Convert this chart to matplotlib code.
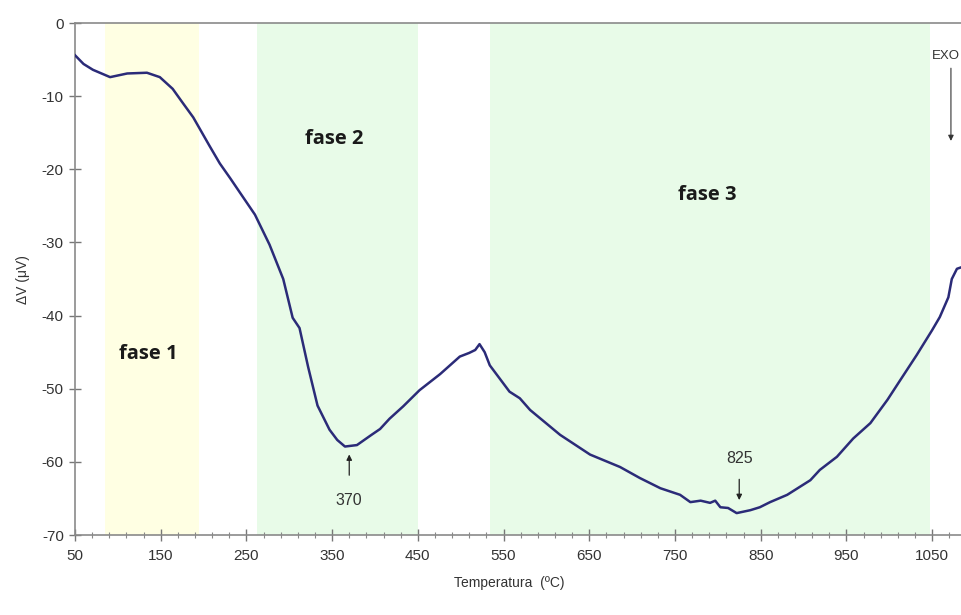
import matplotlib
matplotlib.use("Agg")
import matplotlib.pyplot as plt

plt.rcParams["font.family"] = ["Liberation Sans", "DejaVu Sans"]
plt.rcParams["axes.unicode_minus"] = False

# DTA curve: temperature (ºC) vs ΔV (µV)
temperatura = [50, 60, 71, 91, 111, 134, 149, 164, 175, 188, 207, 219, 231, 242,
               260, 277, 293, 304, 312, 322, 333, 347, 356, 365, 379, 396, 406,
               417, 433, 452, 464, 476, 499, 510, 517, 522, 528, 534, 557, 569,
               581, 616, 651, 686, 709, 733, 756, 768, 780, 791, 797, 803, 812,
               822, 838, 849, 861, 881, 908, 919, 939, 958, 978, 998, 1013, 1032,
               1050, 1059, 1069, 1073, 1079, 1084]
delta_v = [-4.4, -5.6, -6.4, -7.4, -6.9, -6.8, -7.4, -9.0, -10.8, -12.9, -16.8,
           -19.2, -21.2, -23.1, -26.2, -30.3, -35.0, -40.3, -41.7, -47.0, -52.3,
           -55.6, -57.0, -57.9, -57.7, -56.3, -55.5, -54.1, -52.4, -50.2, -49.1,
           -48.0, -45.6, -45.1, -44.7, -43.9, -45.0, -46.8, -50.4, -51.3, -52.9,
           -56.3, -59.0, -60.7, -62.2, -63.6, -64.5, -65.5, -65.3, -65.6, -65.3,
           -66.2, -66.3, -67.0, -66.6, -66.2, -65.5, -64.5, -62.5, -61.1, -59.3,
           -56.8, -54.7, -51.5, -48.8, -45.4, -42.0, -40.2, -37.5, -35.0, -33.6,
           -33.4]

# temperature ranges of each phase
fases = ["fase 1", "fase 2", "fase 3"]
fase_inicio = [85, 262, 534]
fase_fim = [195, 450, 1048]
fase_cor = ["#FFFFE3", "#E8FBE8", "#E8FBE8"]
fase_texto_xy = [(135, -45.2), (353, -15.9), (788, -23.5)]

picos = [370, 825]

fig = plt.figure(figsize=(9.61, 6.15), dpi=100)
ax = fig.add_axes([0.078, 0.130, 0.9365, 0.8326])

for ini, fim, cor in zip(fase_inicio, fase_fim, fase_cor):
    ax.axvspan(ini, fim, color=cor, lw=0, zorder=0)

for nome, (tx, ty) in zip(fases, fase_texto_xy):
    ax.text(tx, ty, nome, family="Open Sans", weight="bold", fontsize=14.5,
            ha="center", va="center", color="#1a1a1a")

ax.plot(temperatura, delta_v, color="#2B2B78", lw=1.8, zorder=3)

# peak markers
ax.annotate("", xy=(picos[0], -58.6), xytext=(picos[0], -62.2),
            arrowprops=dict(arrowstyle="-|>", color="#222222", lw=0.9,
                            mutation_scale=8))
ax.text(picos[0], -65.3, str(picos[0]), ha="center", va="center",
        fontsize=11.5, color="#333333")
ax.annotate("", xy=(picos[1], -65.6), xytext=(picos[1], -62.0),
            arrowprops=dict(arrowstyle="-|>", color="#222222", lw=0.9,
                            mutation_scale=8))
ax.text(picos[1], -59.5, str(picos[1]), ha="center", va="center",
        fontsize=11.5, color="#333333")

# EXO direction
ax.text(1050, -4.5, "EXO", ha="left", va="center", fontsize=9.5,
        color="#333333")
ax.annotate("", xy=(1072, -16.5), xytext=(1072, -5.8),
            arrowprops=dict(arrowstyle="-|>", color="#333333", lw=0.8,
                            mutation_scale=8))

ax.set_xlim(50, 1100)
ax.set_ylim(-70, 0)
ax.set_xticks(range(50, 1100, 100))
ax.set_xticks(range(70, 1100, 20), minor=True)
ax.set_yticks(range(-70, 1, 10))

ax.spines["right"].set_visible(False)
for side in ["left", "top", "bottom"]:
    ax.spines[side].set_color("#8a8a8a")
    ax.spines[side].set_linewidth(1.2)

ax.tick_params(axis="both", which="major", direction="inout", length=8,
               width=1, color="#777777", labelsize=11, labelcolor="#333333")
ax.tick_params(axis="x", which="minor", direction="inout", length=5,
               width=0.8, color="#888888")
ax.tick_params(axis="x", which="major", pad=6)
ax.tick_params(axis="y", which="major", pad=4)

ax.set_xlabel("Temperatura  (ºC)", fontsize=10, color="#333333")
ax.set_ylabel("ΔV (μV)", fontsize=10, color="#333333")
ax.xaxis.set_label_coords(0.483, -0.08)
ax.yaxis.set_label_coords(-0.05, 0.498)

fig.savefig("out.png", dpi=100)
